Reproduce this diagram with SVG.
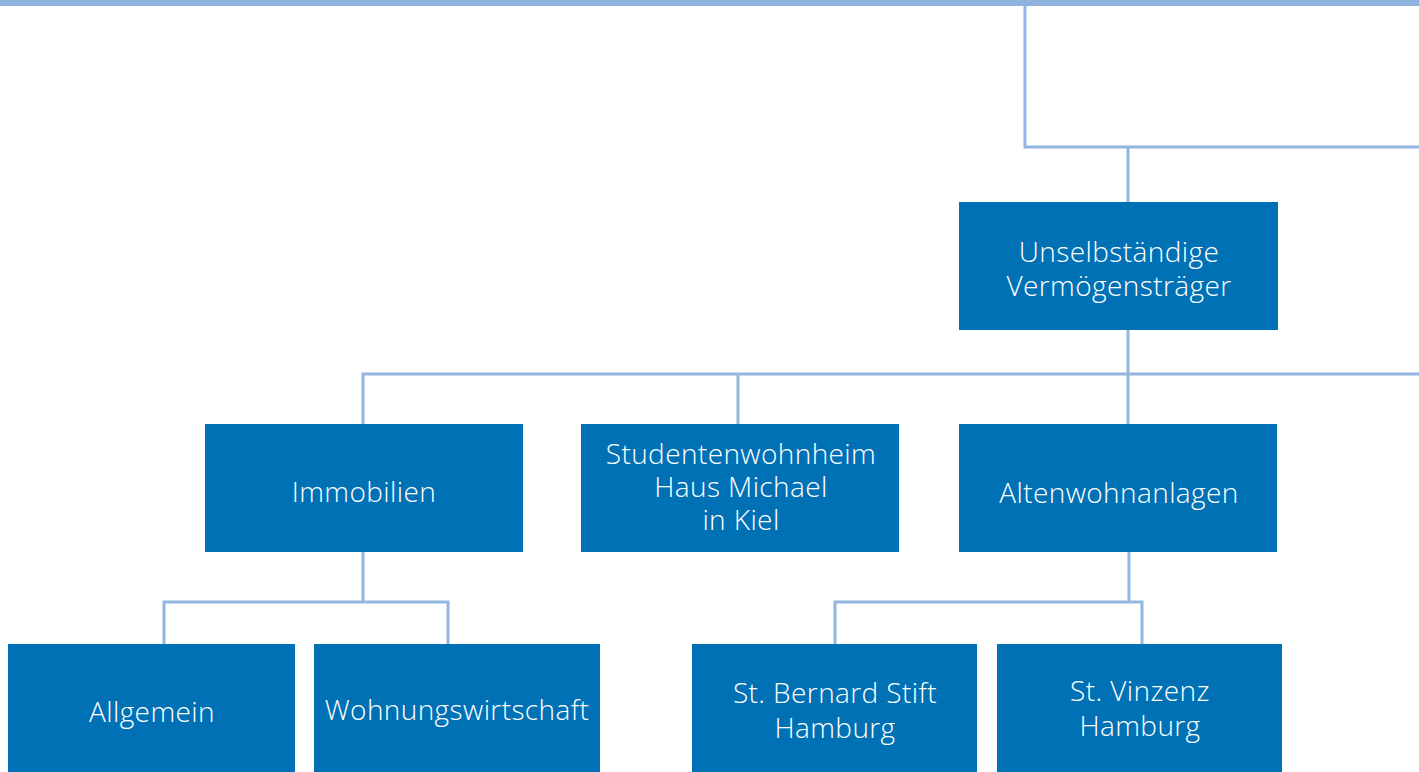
<svg xmlns="http://www.w3.org/2000/svg" width="1419" height="772" viewBox="0 0 1419 772">
<style>
.box{fill:#0071b5}
.t{fill:#ffffff;font-family:"Open Sans","Liberation Sans",sans-serif;font-weight:300;font-size:28px;letter-spacing:0.4px;text-anchor:middle}
.c{fill:none;stroke:#93b6df;stroke-width:3}
</style>
<rect x="0" y="0" width="1419" height="772" fill="#ffffff"/>
<g id="connectors">
<rect x="0" y="0" width="1419" height="6" fill="#8fb3dc"/>
<polyline class="c" points="1025,6 1025,147 1419,147"/>
<line class="c" x1="1128" y1="147" x2="1128" y2="202"/>
<line class="c" x1="1128" y1="330" x2="1128" y2="424"/>
<polyline class="c" points="363,424 363,374 1419,374"/>
<line class="c" x1="738" y1="374" x2="738" y2="424"/>
<line class="c" x1="363" y1="552" x2="363" y2="602"/>
<polyline class="c" points="164,644 164,602 448,602 448,644"/>
<line class="c" x1="1129" y1="552" x2="1129" y2="602"/>
<polyline class="c" points="835,644 835,602 1142,602 1142,644"/>
</g>
<g id="n-unselb"><rect class="box" x="959" y="202" width="319" height="128"/><text class="t" x="1119" y="262">Unselbständige</text><text class="t" x="1119" y="296">Vermögensträger</text></g>
<g id="n-immo"><rect class="box" x="205" y="424" width="318" height="128"/><text class="t" x="364" y="502">Immobilien</text></g>
<g id="n-student"><rect class="box" x="581" y="424" width="318" height="128"/><text class="t" x="741" y="464">Studentenwohnheim</text><text class="t" x="741" y="497">Haus Michael</text><text class="t" x="741" y="530">in Kiel</text></g>
<g id="n-alten"><rect class="box" x="959" y="424" width="318" height="128"/><text class="t" x="1119" y="503">Altenwohnanlagen</text></g>
<g id="n-allg"><rect class="box" x="8" y="644" width="287" height="128"/><text class="t" x="152" y="722">Allgemein</text></g>
<g id="n-wohn"><rect class="box" x="314" y="644" width="286" height="128"/><text class="t" x="457" y="720">Wohnungswirtschaft</text></g>
<g id="n-bernard"><rect class="box" x="692" y="644" width="285" height="128"/><text class="t" x="835" y="703">St. Bernard Stift</text><text class="t" x="835" y="738">Hamburg</text></g>
<g id="n-vinzenz"><rect class="box" x="997" y="644" width="285" height="128"/><text class="t" x="1140" y="701">St. Vinzenz</text><text class="t" x="1140" y="736">Hamburg</text></g>
</svg>
